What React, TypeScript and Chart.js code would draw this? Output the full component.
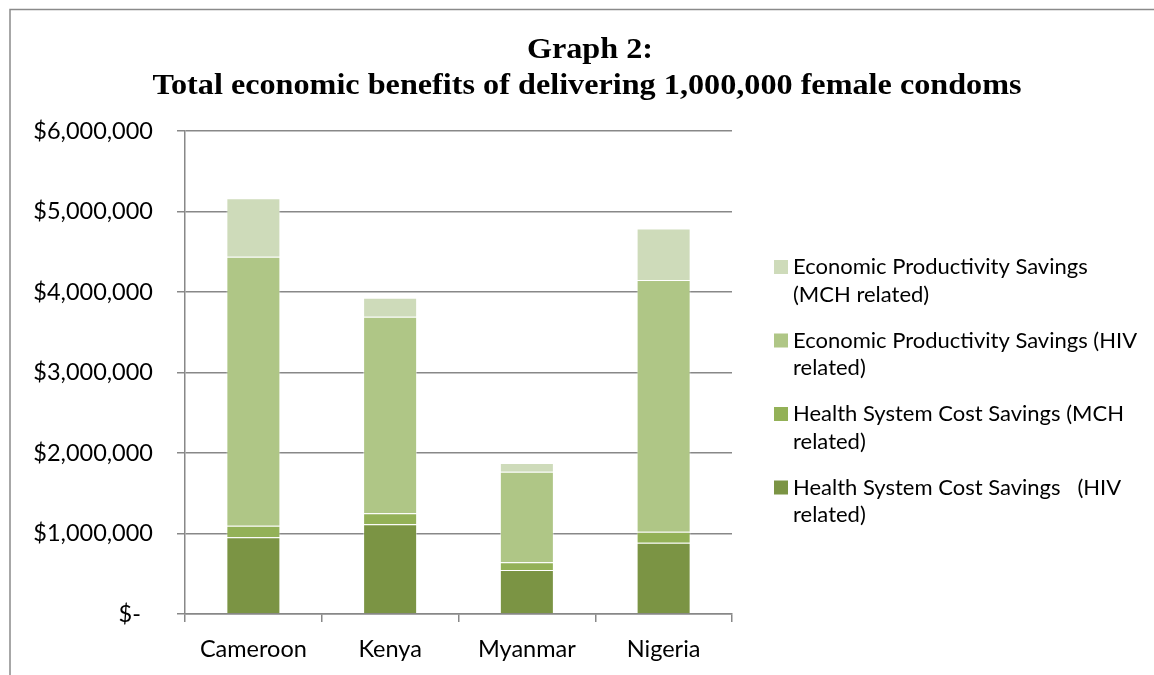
import React, { useEffect, useRef } from "react";
import { Chart, registerables } from "chart.js";

Chart.register(...registerables);

const categories = ["Cameroon", "Kenya", "Myanmar", "Nigeria"];
const healthHIV = [953000, 1114000, 547000, 886000];
const healthMCH = [144000, 137000, 95000, 137000];
const econHIV = [3342000, 2442000, 1126000, 3126000];
const econMCH = [725000, 236000, 108000, 641000];
const yTicks = [0, 1000000, 2000000, 3000000, 4000000, 5000000, 6000000];
const titleLines = ["Graph 2:", "Total economic benefits of delivering 1,000,000 female condoms"];
const seriesNames = [
  ["Health System Cost Savings   (HIV", "related)"],
  ["Health System Cost Savings (MCH", "related)"],
  ["Economic Productivity Savings (HIV", "related)"],
  ["Economic Productivity Savings", "(MCH related)"],
];
const seriesColors = ["#7B9444", "#93B157", "#AFC686", "#CEDBBA"];

const SANS = "Lato, 'Noto Sans', sans-serif";
const GRID = "#888888";

const decorPlugin = {
  id: "decor",
  beforeDraw(chart: any) {
    const ctx = chart.ctx;
    ctx.save();
    ctx.fillStyle = "#ffffff";
    ctx.fillRect(0, 0, chart.width, chart.height);
    ctx.restore();
  },
  afterDraw(chart: any) {
    const ctx = chart.ctx;
    ctx.save();
    // frame
    ctx.strokeStyle = "#8a8a8a";
    ctx.lineWidth = 1.5;
    ctx.beginPath();
    ctx.moveTo(10, chart.height);
    ctx.lineTo(10, 9.5);
    ctx.lineTo(chart.width, 9.5);
    ctx.stroke();
    // title (serif bold, stretched horizontally to resemble Cambria's width)
    ctx.fillStyle = "#000000";
    ctx.textAlign = "center";
    ctx.textBaseline = "alphabetic";
    ctx.font = "bold 28.5px 'Liberation Serif', serif";
    const sx = 1.13;
    ctx.save();
    ctx.translate(590, 58);
    ctx.scale(sx, 1);
    ctx.fillText(titleLines[0], 0, 0);
    ctx.restore();
    ctx.save();
    ctx.translate(587, 94);
    ctx.scale(sx, 1);
    ctx.fillText(titleLines[1], 0, 0);
    ctx.restore();
    // legend
    const ds = chart.data.datasets;
    ctx.textAlign = "left";
    ctx.textBaseline = "middle";
    ctx.font = "22px " + SANS;
    for (let k = 0; k < ds.length; k++) {
      const i = ds.length - 1 - k;
      const y0 = 267 + k * 73.5;
      ctx.fillStyle = ds[i].backgroundColor;
      ctx.fillRect(774, y0 - 7, 14, 14);
      ctx.fillStyle = "#000000";
      const lines = seriesNames[i];
      for (let j = 0; j < lines.length; j++) {
        ctx.fillText(lines[j], 793, y0 + j * 27.5);
      }
    }
    ctx.restore();
  },
};

export default function App() {
  const ref = useRef<HTMLCanvasElement | null>(null);
  useEffect(() => {
    if (!ref.current) return;
    const series = [healthHIV, healthMCH, econHIV, econMCH];
    const chart = new Chart(ref.current, {
      type: "bar",
      data: {
        labels: categories,
        datasets: series.map((d, i) => ({
          label: seriesNames[i].join(" "),
          data: d,
          backgroundColor: seriesColors[i],
          borderColor: "rgba(255,255,255,0.45)",
          borderWidth: 1,
          categoryPercentage: 1,
          barPercentage: 0.395,
        })),
      },
      options: {
        animation: false,
        responsive: true,
        maintainAspectRatio: false,
        layout: { padding: { top: 131, right: 422, bottom: 0, left: 0 } },
        plugins: {
          legend: { display: false },
          title: { display: false },
          tooltip: { enabled: false },
        },
        scales: {
          x: {
            stacked: true,
            afterFit: (s: any) => {
              s.height = 61;
            },
            grid: {
              drawOnChartArea: false,
              drawTicks: true,
              tickLength: 8,
              color: GRID,
              lineWidth: 1.5,
            },
            border: { display: true, color: GRID, width: 1.5 },
            ticks: {
              color: "#000000",
              padding: 13,
              font: { family: SANS, size: 23.5 },
              maxRotation: 0,
            },
          },
          y: {
            stacked: true,
            min: 0,
            max: 6000000,
            afterFit: (s: any) => {
              s.width = 185;
            },
            afterBuildTicks: (s: any) => {
              s.ticks = yTicks.map((v) => ({ value: v }));
            },
            grid: {
              drawTicks: true,
              tickLength: 8,
              color: GRID,
              lineWidth: 1.5,
            },
            border: { display: true, color: GRID, width: 1.5 },
            ticks: {
              color: "#000000",
              padding: 24,
              font: { family: SANS, size: 23.5 },
              callback: (v: any) =>
                Number(v) === 0 ? "$-  " : "$" + Number(v).toLocaleString("en-US"),
            },
          },
        },
      },
      plugins: [decorPlugin],
    });
    return () => chart.destroy();
  }, []);
  return (
    <div style={{ position: "absolute", left: 0, top: 0, width: 1154, height: 675, background: "#fff" }}>
      <canvas ref={ref} />
    </div>
  );
}
